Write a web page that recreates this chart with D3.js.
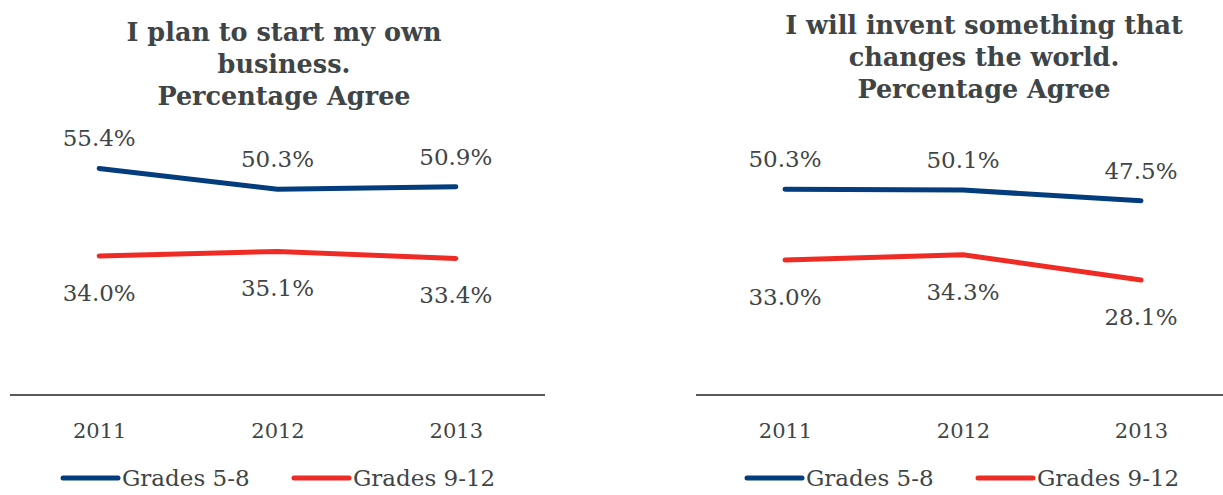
<!DOCTYPE html>
<html><head><meta charset="utf-8">
<script src="https://cdn.jsdelivr.net/npm/d3@7"></script>
<style>body{margin:0;background:#fff}svg{display:block}</style>
</head><body>
<svg id="c" width="1223" height="495"></svg>
<script>
const years = ["2011", "2012", "2013"];
const seriesNames = ["Grades 5-8", "Grades 9-12"];
const titles1 = ["I plan to start my own", "business.", "Percentage Agree"];
const titles2 = ["I will invent something that", "changes the world.", "Percentage Agree"];
const business58 = [55.4, 50.3, 50.9];
const business912 = [34.0, 35.1, 33.4];
const invent58 = [50.3, 50.1, 47.5];
const invent912 = [33.0, 34.3, 28.1];

const colors = ["#033d7d", "#ee2c25"];
const textColor = "#3f4546";
const font = "'DejaVu Serif', Georgia, serif";
const svg = d3.select("#c");

const panels = [
  {titles: titles1, series: [business58, business912], x0: 10, x1: 545, tx: 284, ty: 41, legX: 63},
  {titles: titles2, series: [invent58, invent912], x0: 696, x1: 1230, tx: 984, ty: 34, legX: 747}
];

const y = d3.scaleLinear().domain([0, 60]).range([395, 149.6]);

panels.forEach(p => {
  const g = svg.append("g");
  const x = d3.scalePoint().domain(years).range([p.x0, p.x1]).padding(0.5);

  // title
  g.append("text").attr("x", p.tx).attr("y", p.ty)
    .attr("text-anchor", "middle").attr("font-family", font).attr("font-weight", "bold")
    .attr("font-size", 25.5).attr("fill", textColor)
    .selectAll("tspan").data(p.titles).join("tspan")
    .attr("x", p.tx).attr("dy", (d, i) => i === 0 ? 0 : 32).text(d => d);

  // axis
  const axis = g.append("g").attr("transform", "translate(0,395)")
    .call(d3.axisBottom(x).tickSize(0).tickPadding(28));
  axis.select(".domain").attr("stroke", "#595959").attr("stroke-width", 2)
    .attr("d", `M${p.x0},0H${p.x1}`);
  axis.selectAll("text").attr("font-family", font).attr("font-size", 21)
    .attr("fill", textColor);

  const line = d3.line().x((d, i) => x(years[i])).y(d => y(d));
  p.series.forEach((s, si) => {
    g.append("path").datum(s).attr("d", line).attr("fill", "none")
      .attr("stroke", colors[si]).attr("stroke-width", 5)
      .attr("stroke-linecap", "round").attr("stroke-linejoin", "round");
    g.selectAll(null).data(s).join("text")
      .attr("x", (d, i) => x(years[i]))
      .attr("y", d => si === 0 ? y(d) - 22 : y(d) + 45)
      .attr("text-anchor", "middle").attr("font-family", font).attr("font-size", 23)
      .attr("fill", textColor).text(d => d.toFixed(1) + "%");
  });

  // legend
  const offs = [0, 231];
  seriesNames.forEach((n, i) => {
    const lx = p.legX + offs[i];
    g.append("line").attr("x1", lx).attr("x2", lx + 55).attr("y1", 478).attr("y2", 478)
      .attr("stroke", colors[i]).attr("stroke-width", 5).attr("stroke-linecap", "round");
    g.append("text").attr("x", lx + 59).attr("y", 486).attr("font-family", font)
      .attr("font-size", 23).attr("fill", textColor).text(n);
  });
});
</script>
</body></html>
